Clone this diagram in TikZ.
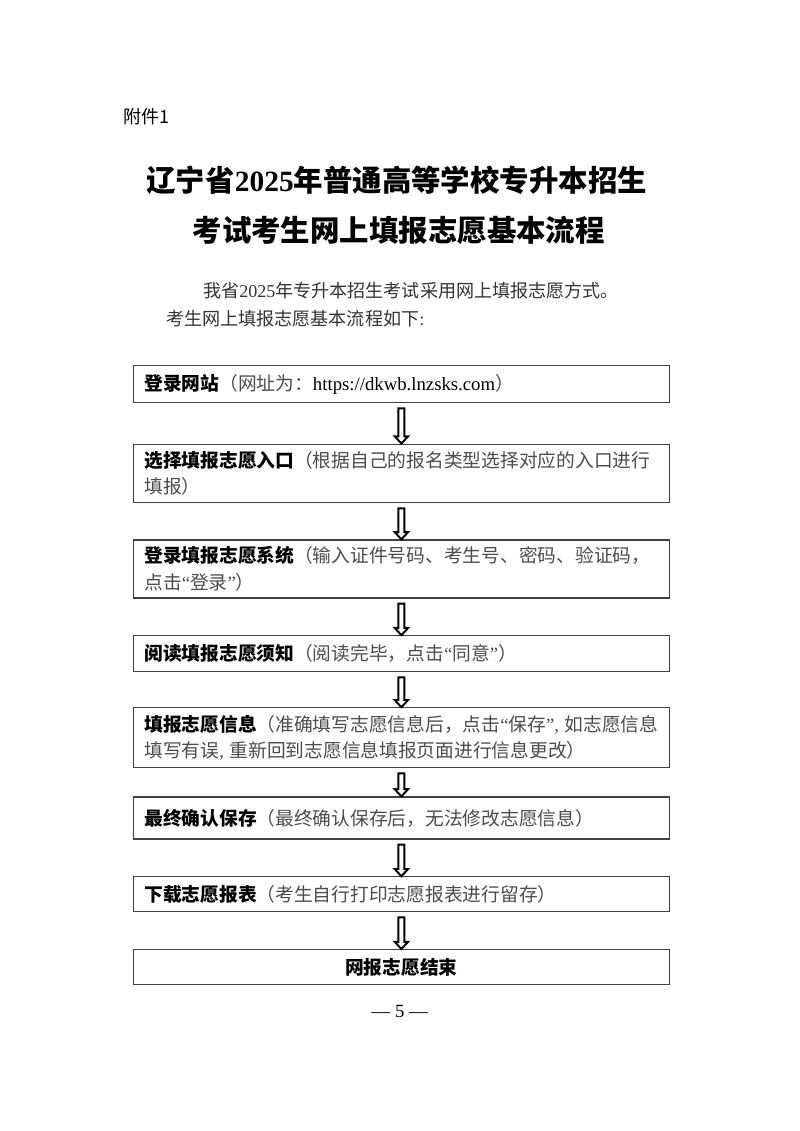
\documentclass[tikz,border=0pt]{standalone}
\usepackage{fontspec}
\setmainfont{Liberation Serif}
\newfontfamily\cjk{Noto Sans CJK SC}
\usepackage{tikz}
\usetikzlibrary{positioning, calc}

% bold lead words of a step, and half-width quotes
\newcommand{\stepname}[1]{{\bfseries\color{black}#1}}
\newcommand{\hq}[1]{{\rmfamily “}#1{\rmfamily ”}}

\begin{document}
\begin{tikzpicture}[
    node distance=9.6mm,
    stepbox/.style={rectangle, draw=black!75, line width=0.9pt, text width=135mm,
        inner xsep=2.85mm, inner ysep=0pt, align=left, text=black!70,
        font=\cjk\fontsize{14}{20}\selectfont},
    endbox/.style={stepbox, align=center, text=black},
    % hollow block arrow from one box to the next
    flowarrow/.style={draw=black, line width=1.45pt, line join=miter, to path={
        ($(\tikztostart)+(-2.2pt,-3.7pt)$) -- ($(\tikztotarget)+(-2.2pt,5.4pt)$)
        -- ($(\tikztotarget)+(-5pt,5.4pt)$) -- (\tikztotarget)
        -- ($(\tikztotarget)+(5pt,5.4pt)$) -- ($(\tikztotarget)+(2.2pt,5.4pt)$)
        -- ($(\tikztostart)+(2.2pt,-3.7pt)$) -- cycle}},
    heading/.style={font=\cjk\bfseries\fontsize{22}{26}\selectfont},
    bodytext/.style={anchor=west, inner sep=0pt, text=black!80,
        font=\cjk\fontsize{13.5}{18}\selectfont}
]
\useasboundingbox (0,0) rectangle (210mm,-297mm);

% Header and title
\node[anchor=west, inner sep=0pt, font=\cjk\fontsize{13.5}{16}\selectfont] (att) at (32.3mm,-30.7mm) {附件1};
\node[heading] (title1) at (104.2mm,-47.3mm) {辽宁省{\rmfamily 2025}年普通高等学校专升本招生};
\node[heading] (title2) at (104.7mm,-60.4mm) {考试考生网上填报志愿基本流程};

% Intro text
\node[bodytext] (intro1) at (53.3mm,-76.3mm) {我省{\rmfamily 2025}年专升本招生考试采用网上填报志愿方式。};
\node[bodytext] (intro2) at (43.6mm,-83.6mm) {考生网上填报志愿基本流程如下{\rmfamily :}};

% Steps
\node[stepbox, minimum height=9.8mm, anchor=north west] (b1) at (34.9mm,-95.8mm)
    {\stepname{登录网站}（网址为：{\rmfamily\color{black} https://dkwb.lnzsks.com}）};
\node[stepbox, minimum height=15.4mm, below=10.55mm of b1] (b2)
    {\stepname{选择填报志愿入口}（根据自己的报名类型选择对应的入口进行\\填报）};
\node[stepbox, minimum height=15.25mm, below=9.45mm of b2] (b3)
    {\stepname{登录填报志愿系统}（输入证件号码、考生号、密码、验证码，\\点击\hq{登录}）};
\node[stepbox, minimum height=9.45mm, below=9.6mm of b3] (b4)
    {\stepname{阅读填报志愿须知}（阅读完毕，点击\hq{同意}）};
\node[stepbox, minimum height=15.75mm, below=9.15mm of b4] (b5)
    {\stepname{填报志愿信息}（准确填写志愿信息后，点击\hq{保存}{\rmfamily ,}\kern0.3em 如志愿信息\\填写有误{\rmfamily ,}\kern0.3em 重新回到志愿信息填报页面进行信息更改）};
\node[stepbox, minimum height=11.05mm, below=7.35mm of b5] (b6)
    {\stepname{最终确认保存}（最终确认保存后，无法修改志愿信息）};
\node[stepbox, minimum height=9.2mm, below=9.6mm of b6] (b7)
    {\stepname{下载志愿报表}（考生自行打印志愿报表进行留存）};
\node[endbox, minimum height=9.2mm, below=9.6mm of b7] (b8)
    {\bfseries 网报志愿结束};

% Arrows
\foreach \a/\b in {b1/b2, b2/b3, b3/b4, b4/b5, b5/b6, b6/b7, b7/b8}
    \draw[flowarrow] (\a.south) to (\b.north);

% Page number
\node[font=\fontsize{14}{16}\selectfont] (page) at (105mm,-265.6mm) {— 5 —};

\end{tikzpicture}
\end{document}
